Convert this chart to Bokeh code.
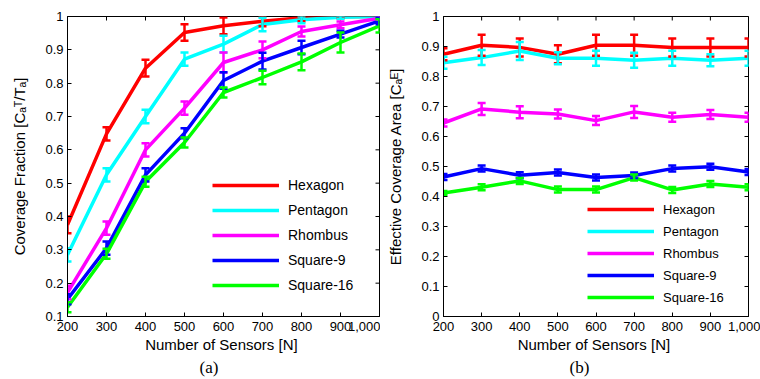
import math

from bokeh.plotting import figure
from bokeh.models import (ColumnDataSource, Whisker, TeeHead, Legend, LegendItem,
                          FixedTicker, Range1d, Title)
from bokeh.layouts import row
from bokeh.embed import file_html
from bokeh.resources import INLINE

# Number of deployed sensors
sensors = [200, 300, 400, 500, 600, 700, 800, 900, 1000]
x_tick_labels = ["200", "300", "400", "500", "600", "700", "800", "900", "1,000"]

names = ["Hexagon", "Pentagon", "Rhombus", "Square-9", "Square-16"]
colors = ["#ff0000", "#00ffff", "#ff00ff", "#0000ff", "#00ff00"]

# (a) coverage fraction C_a^T / T_a
frac_hexagon = [0.375, 0.648, 0.845, 0.952, 0.972, 0.986, 0.996, 1.0, 1.0]
frac_pentagon = [0.285, 0.525, 0.70, 0.872, 0.917, 0.976, 0.99, 0.998, 1.0]
frac_rhombus = [0.172, 0.365, 0.60, 0.725, 0.862, 0.90, 0.955, 0.975, 0.995]
frac_square9 = [0.152, 0.305, 0.525, 0.65, 0.808, 0.866, 0.907, 0.947, 0.987]
frac_square16 = [0.128, 0.288, 0.504, 0.622, 0.772, 0.817, 0.864, 0.922, 0.972]

frac_err_hexagon = [0.025, 0.02, 0.025, 0.025, 0.025, 0.015, 0.01, 0.005, 0.005]
frac_err_pentagon = [0.02, 0.02, 0.02, 0.02, 0.025, 0.02, 0.01, 0.005, 0.005]
frac_err_rhombus = [0.02, 0.02, 0.02, 0.02, 0.03, 0.025, 0.015, 0.01, 0.005]
frac_err_square9 = [0.015, 0.02, 0.02, 0.015, 0.025, 0.025, 0.02, 0.01, 0.01]
frac_err_square16 = [0.015, 0.015, 0.015, 0.015, 0.015, 0.02, 0.025, 0.03, 0.02]

# (b) effective coverage area C_a^E
area_hexagon = [0.874, 0.904, 0.897, 0.874, 0.904, 0.904, 0.897, 0.897, 0.897]
area_pentagon = [0.846, 0.863, 0.885, 0.861, 0.861, 0.854, 0.861, 0.854, 0.861]
area_rhombus = [0.645, 0.692, 0.681, 0.675, 0.653, 0.682, 0.664, 0.673, 0.664]
area_square9 = [0.465, 0.493, 0.471, 0.480, 0.463, 0.470, 0.493, 0.499, 0.482]
area_square16 = [0.412, 0.431, 0.452, 0.423, 0.423, 0.463, 0.422, 0.442, 0.431]

area_err_hexagon = [0.02, 0.035, 0.03, 0.03, 0.035, 0.035, 0.03, 0.03, 0.03]
area_err_pentagon = [0.02, 0.025, 0.03, 0.02, 0.025, 0.025, 0.025, 0.02, 0.025]
area_err_rhombus = [0.012, 0.02, 0.02, 0.015, 0.015, 0.02, 0.015, 0.015, 0.015]
area_err_square9 = [0.01, 0.01, 0.01, 0.01, 0.01, 0.01, 0.01, 0.01, 0.01]
area_err_square16 = [0.006, 0.01, 0.01, 0.01, 0.01, 0.01, 0.01, 0.01, 0.01]

y_ticks_a = [0.1, 0.2, 0.3, 0.4, 0.5, 0.6, 0.7, 0.8, 0.9, 1.0]
y_labels_a = ["0.1", "0.2", "0.3", "0.4", "0.5", "0.6", "0.7", "0.8", "0.9", "1"]
y_ticks_b = [0.0, 0.1, 0.2, 0.3, 0.4, 0.5, 0.6, 0.7, 0.8, 0.9, 1.0]
y_labels_b = ["0", "0.1", "0.2", "0.3", "0.4", "0.5", "0.6", "0.7", "0.8", "0.9", "1"]

SANS = "Liberation Sans"


def style_axis(ax, ticks, labels):
    ax.ticker = FixedTicker(ticks=ticks)
    ax.major_label_overrides = {t: l for t, l in zip(ticks, labels)}
    ax.axis_line_color = "black"
    ax.axis_line_width = 1
    ax.major_tick_line_color = "black"
    ax.major_tick_in = 4
    ax.major_tick_out = 0
    ax.minor_tick_line_color = None
    ax.major_label_text_color = "black"
    ax.major_label_text_font = SANS
    ax.major_label_text_font_size = "13px"
    ax.major_label_standoff = 4
    ax.axis_label_text_font = SANS
    ax.axis_label_text_font_style = "normal"
    ax.axis_label_text_color = "black"
    ax.axis_label_text_font_size = "15px"


def panel(series, errors, y_range, y_ticks, y_labels, y_label, caption,
          borders, legend_loc, legend_font, legend_spacing, caption_offset):
    left, right, top, bottom = borders
    p = figure(width=380, height=379, output_backend="svg", toolbar_location=None,
               x_range=Range1d(200, 1000), y_range=Range1d(*y_range),
               min_border_left=left, min_border_right=right,
               min_border_top=top, min_border_bottom=bottom)
    p.xgrid.visible = False
    p.ygrid.visible = False
    p.outline_line_color = "black"
    p.outline_line_width = 1
    p.background_fill_color = "white"
    p.border_fill_color = "white"

    style_axis(p.xaxis[0], sensors, x_tick_labels)
    style_axis(p.yaxis[0], y_ticks, y_labels)
    p.xaxis[0].axis_label = "Number of  Sensors [N]"
    p.xaxis[0].major_label_standoff = 5
    p.xaxis[0].axis_label_standoff = 2
    p.yaxis[0].axis_label = y_label
    p.yaxis[0].axis_label_standoff = 14

    # inward tick marks along the top and right edges of the box
    p.scatter(x=sensors, y=[y_range[1]] * len(sensors), marker="dash", size=8,
              angle=math.pi / 2, line_color="black", line_width=1)
    p.scatter(x=[sensors[-1]] * len(y_ticks), y=y_ticks, marker="dash", size=8,
              line_color="black", line_width=1)

    items = []
    for name, color, ys, errs in zip(names, colors, series, errors):
        src = ColumnDataSource(dict(
            x=sensors, y=ys,
            lower=[v - e for v, e in zip(ys, errs)],
            upper=[v + e for v, e in zip(ys, errs)],
        ))
        r = p.line("x", "y", source=src, line_color=color, line_width=3.5)
        w = Whisker(base="x", lower="lower", upper="upper", source=src,
                    line_color=color, line_width=2.5, level="glyph",
                    upper_head=TeeHead(size=8, line_color=color, line_width=2.5),
                    lower_head=TeeHead(size=8, line_color=color, line_width=2.5))
        p.add_layout(w)
        items.append(LegendItem(label=name, renderers=[r]))

    legend = Legend(items=items, location=legend_loc,
                    border_line_alpha=0, background_fill_alpha=0,
                    padding=0, margin=0, glyph_width=67, glyph_height=16,
                    label_height=16, spacing=legend_spacing, label_standoff=9,
                    label_text_font=SANS, label_text_font_size=legend_font,
                    label_text_color="black")
    p.add_layout(legend)

    # panel caption under the axis title
    p.add_layout(Title(text=caption, align="left", offset=caption_offset, standoff=0,
                       text_font="Liberation Serif", text_font_size="17px",
                       text_font_style="normal", text_color="black"), "below")
    return p


p_a = panel([frac_hexagon, frac_pentagon, frac_rhombus, frac_square9, frac_square16],
            [frac_err_hexagon, frac_err_pentagon, frac_err_rhombus, frac_err_square9, frac_err_square16],
            (0.1, 1.0), y_ticks_a, y_labels_a, "Coverage Fraction [C\u2090\u1d40/T\u2090]", "(a)",
            (67, 1, 16, 61), (145, 23), "14px", 9, 132)

p_b = panel([area_hexagon, area_pentagon, area_rhombus, area_square9, area_square16],
            [area_err_hexagon, area_err_pentagon, area_err_rhombus, area_err_square9, area_err_square16],
            (0.0, 1.0), y_ticks_b, y_labels_b, "Effective Coverage Area [C\u2090\u1d31]", "(b)",
            (63, 12, 16, 63), (144, 11), "13px", 6, 126)

layout = row(p_a, p_b)
open("out.html", "w").write(file_html(layout, INLINE))
